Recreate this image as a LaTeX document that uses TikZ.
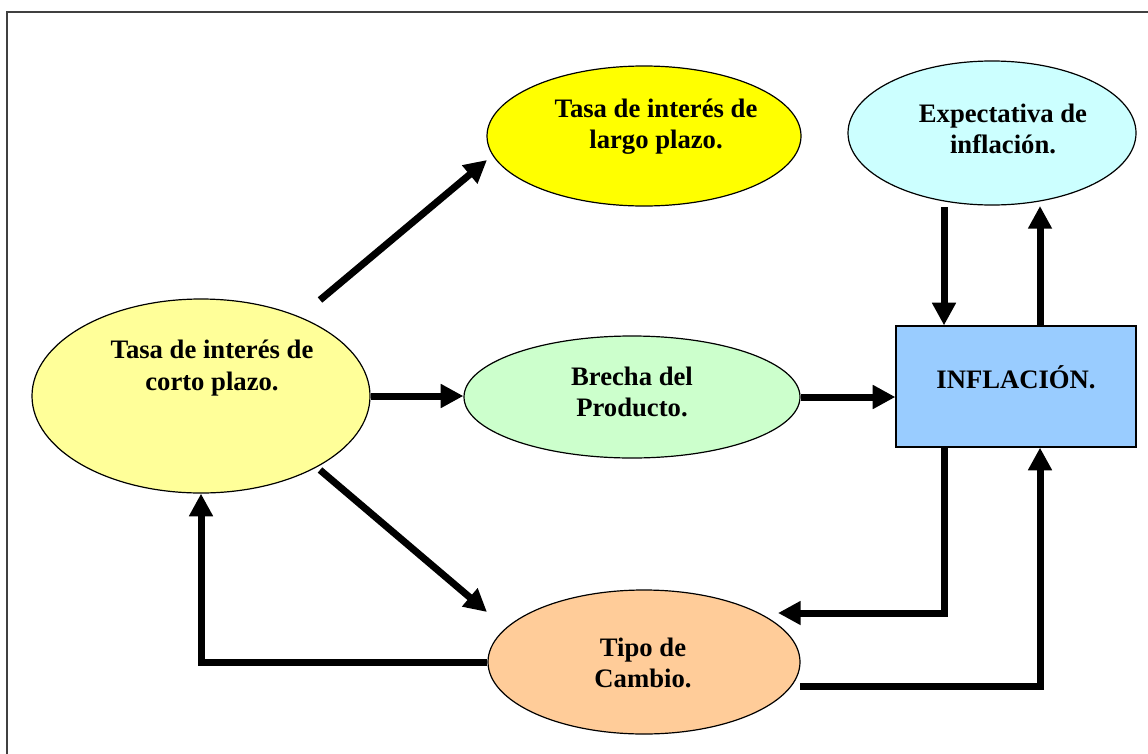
\documentclass[tikz,border=0pt]{standalone}
\usepackage{fontspec}
\setmainfont{Liberation Serif}
\usetikzlibrary{arrows.meta,shapes.geometric}
\definecolor{cpfill}{HTML}{FFFF99}
\definecolor{lpfill}{HTML}{FFFF00}
\definecolor{exfill}{HTML}{CCFFFF}
\definecolor{bpfill}{HTML}{CCFFCC}
\definecolor{tcfill}{HTML}{FFCC99}
\definecolor{inffill}{HTML}{99CCFF}
\definecolor{framegray}{HTML}{404040}
\begin{document}
\begin{tikzpicture}[x=0.75pt,y=-0.75pt,
  bub/.style={ellipse,draw=black,line width=0.9pt,inner sep=0pt},
  lbl/.style={font=\fontsize{20}{23.5}\selectfont\bfseries,align=center,inner sep=0pt},
  arr/.style={line width=5.25pt,-{Triangle[length=17pt,width=17pt]}}]
\useasboundingbox (0,0) rectangle (1148,753);
\fill[white] (0,0) rectangle (1148,753);
\draw[framegray,line width=2pt] (7,780) -- (7,12) -- (1180,12);

% shapes
\node[bub,fill=cpfill,minimum width=338*0.75pt,minimum height=194*0.75pt] (cp) at (201,396) {};
\node[bub,fill=lpfill,minimum width=314*0.75pt,minimum height=140*0.75pt] (lp) at (644,136) {};
\node[bub,fill=exfill,minimum width=288*0.75pt,minimum height=144*0.75pt] (ex) at (992,133) {};
\node[bub,fill=bpfill,minimum width=336*0.75pt,minimum height=122*0.75pt] (bp) at (632,397) {};
\node[bub,fill=tcfill,minimum width=312*0.75pt,minimum height=144*0.75pt] (tc) at (644,662) {};
\node[draw=black,line width=0.9pt,fill=inffill,inner sep=0pt,minimum width=240*0.75pt,minimum height=121*0.75pt] (inf) at (1016,386.5) {};

% labels
\node[lbl] (cpt) at (212,368) {Tasa de interés de\\corto plazo.};
\node[lbl] (lpt) at (656,127) {Tasa de interés de\\largo plazo.};
\node[lbl] (ext) at (1003,129) {Expectativa de\\inflación.};
\node[lbl] (bpt) at (632,392) {Brecha del\\Producto.};
\node[lbl] (tct) at (643,663) {Tipo de\\Cambio.};
\node[lbl] (inft) at (1016,377) {INFLACIÓN.};

% connector end points
\coordinate (c1) at ([shift={(119,-96)}]cp.center);
\coordinate (l1) at ([shift={(-157,24)}]lp.center);
\coordinate (c2) at ([shift={(119,74)}]cp.center);
\coordinate (t0) at ([shift={(-157,-50)}]tc.center);
\coordinate (e1) at ([shift={(-48,74)}]ex.center);
\coordinate (e2) at ([shift={(48,73)}]ex.center);
\coordinate (t1) at ([shift={(134,-49)}]tc.center);
\coordinate (t2) at ([shift={(156,24)}]tc.center);

% connectors
\draw[arr] (c1) -- (l1);
\draw[arr] (c2) -- (t0);
\draw[arr] (cp.east) -- (cp.east -| bp.west);
\draw[arr] (bp.east) -- (bp.east -| inf.west);
\draw[arr] (tc.west) -| (cp.south);
\draw[arr] (e1) -- (e1 |- inf.north);
\draw[arr] (e2 |- inf.north) -- (e2);
\draw[arr] (inf.south -| e1) |- (t1);
\draw[arr] (t2) -| (inf.south -| e2);
\end{tikzpicture}
\end{document}
